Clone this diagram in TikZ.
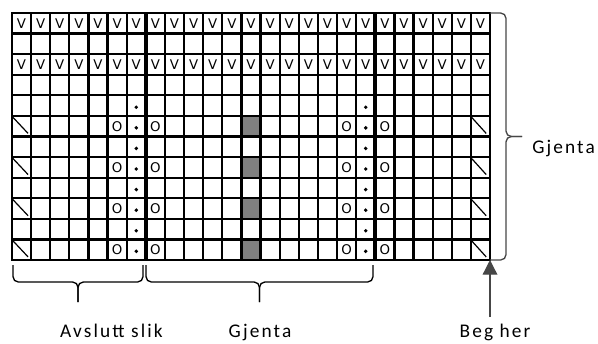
\documentclass[tikz,border=0pt]{standalone}
\usepackage{fontspec}
\setmainfont{Carlito}[LetterSpace=11]
\newfontfamily\rutefont{DejaVu Sans}
\usetikzlibrary{arrows.meta,positioning}
\definecolor{strikkGraa}{RGB}{128,128,128}
\definecolor{klammeGraa}{RGB}{70,70,70}

\begin{document}
\begin{tikzpicture}[x=0.75pt, y=-0.75pt,
     rute/.style={black, line width=1.7pt},
     skille/.style={black, line width=2.9pt},
     skraa/.style={black, line width=0.9pt},
     tegn/.style={font=\rutefont\fontsize{10}{10}\selectfont, inner sep=0pt},
     prikk/.style={circle, fill=black, inner sep=0pt, minimum size=2.9pt},
     klamme/.style={black, line width=1pt, rounded corners=4pt},
     pil/.style={-{Triangle[length=11pt, width=11pt]}, klammeGraa, line width=1pt},
     etikett/.style={font=\fontsize{14.5}{16}\selectfont, inner sep=0pt}]
    \useasboundingbox (0,0) rectangle (598,343);

    % diagrammet, en enhet per rute
    \begin{scope}[shift={(12,13)}, x=14.34pt, y=-15.435pt]
      \foreach \r in {6,8,10,12}
        \fill[strikkGraa] (12,\r-1) rectangle (13,\r);
      \foreach \r in {6,8,10,12} {
        \draw[skraa] (0.03,\r-0.95) -- (0.84,\r-0.15);
        \draw[skraa] (24.05,\r-0.92) -- (24.8,\r-0.15);
      }
      \foreach \r in {1,3}
        \foreach \c in {1,...,25}
          \node[tegn] (v\r-\c) at (\c-0.5,\r-0.5) {V};
      \foreach \r in {6,8,10,12}
        \foreach \c in {6,8,18,20}
          \node[tegn] (o\r-\c) at (\c-0.5,\r-0.5) {O};
      \foreach \r in {5,...,12}
        \foreach \c in {7,19}
          \node[prikk] (p\r-\c) at (\c-0.5,\r-0.42) {};
      \foreach \c in {0,...,25}
        \draw[rute] (\c,0) -- (\c,12);
      \foreach \r in {0,...,12}
        \draw[rute] (0,\r) -- (25,\r);
      \draw[rute] (0,0) rectangle (25,12);
      \draw[skille] (7,0) -- (7,12);
      \draw[skille] (19,0) -- (19,12);
    \end{scope}

    % klammer
    \coordinate (hoyreTopp) at (490,13);
    \coordinate (hoyreBunn) at (490,260);
    \coordinate (hoyreSpiss) at (522,136.5);
    \draw[klamme, klammeGraa] (hoyreTopp) -| (506,136.5) -- (hoyreSpiss);
    \draw[klamme, klammeGraa] (hoyreBunn) -| (506,136.5) -- (hoyreSpiss);

    \coordinate (avslA) at (13,265);
    \coordinate (avslB) at (143,265);
    \coordinate (avslSpiss) at (78,302);
    \draw[klamme] (avslA) |- (78,282) -- (avslSpiss);
    \draw[klamme] (avslB) |- (78,282) -- (avslSpiss);

    \coordinate (gjentaA) at (146,265);
    \coordinate (gjentaB) at (373,265);
    \coordinate (gjentaSpiss) at (259.5,302);
    \draw[klamme] (gjentaA) |- (259.5,282) -- (gjentaSpiss);
    \draw[klamme] (gjentaB) |- (259.5,282) -- (gjentaSpiss);

    % pil
    \coordinate (begStart) at (490,317);
    \coordinate (begMaal) at (490,260);
    \draw[pil] (begStart) -- (begMaal);

    % tekster
    \node[etikett, anchor=base west] (gjentaHoyre) at (532,153) {Gjenta};
    \node[etikett, anchor=base] (avslutt) at (111.5,337) {Avslutt slik};
    \node[etikett, anchor=base] (gjenta) at (260,337) {Gjenta};
    \node[etikett, anchor=base] (beg) at (495,337) {Beg her};
  \end{tikzpicture}
\end{document}
